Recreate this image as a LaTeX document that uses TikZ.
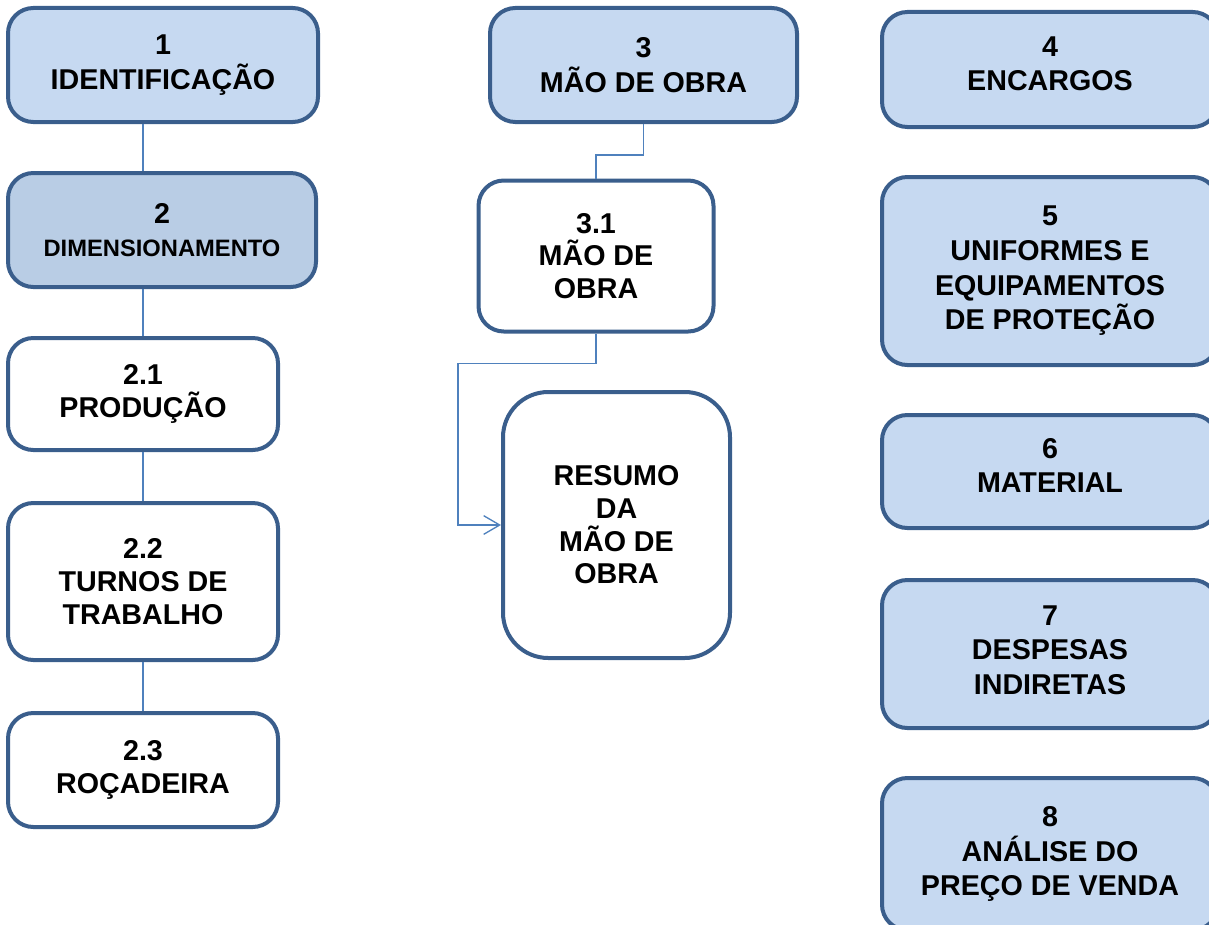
\documentclass[tikz,border=0pt]{standalone}
\usepackage{fontspec}
\setmainfont{Liberation Sans}
\usetikzlibrary{arrows.meta}
\definecolor{borda}{HTML}{3A5E8C}
\definecolor{azulclaro}{HTML}{C6D9F1}
\definecolor{azulmedio}{HTML}{B9CDE5}
\definecolor{linha}{HTML}{4F81BD}
\tikzset{
	caixa/.style 2 args={draw=borda, line width=3pt, rounded corners=19pt, align=center,
		minimum width=#1*0.75pt, minimum height=#2*0.75pt, inner sep=0pt,
		font=\fontsize{21.5}{24.5}\selectfont\bfseries},
	azul/.style={fill=azulclaro, font=\fontsize{21.5}{26}\selectfont\bfseries},
	liga/.style={draw=linha, line width=1pt}
}

\begin{document}
\begin{tikzpicture}[x=0.75pt, y=-0.75pt]
		%%%%% START %%%%%
		\useasboundingbox (0, 0) rectangle (1209, 924);
		
		% coluna 1
		\node[caixa={310}{114}, azul] (n1) at (163, 65) {1\\IDENTIFICAÇÃO};
		\node[caixa={308}{114}, fill=azulmedio] (n2) at (162, 230) {2\\{\fontsize{17.8}{22}\selectfont DIMENSIONAMENTO}};
		\node[caixa={270}{112}, fill=white] (n21) at (143, 394) {2.1\\PRODUÇÃO};
		\node[caixa={270}{157}, fill=white] (n22) at (143, 581.5) {2.2\\TURNOS DE\\TRABALHO};
		\node[caixa={270}{114}, fill=white] (n23) at (143, 770) {2.3\\ROÇADEIRA};
		
		\draw[liga] (n1.south -| n21.north) -- (n2.north -| n21.north);
		\draw[liga] (n2.south -| n21.north) -- (n21.north);
		\draw[liga] (n21.south) -- (n22.north);
		\draw[liga] (n22.south) -- (n23.north);
		
		% coluna 2
		\node[caixa={307}{114}, azul] (n3) at (643.5, 65) {3\\MÃO DE OBRA};
		\node[caixa={235}{151}, fill=white] (n31) at (596, 256) {3.1\\MÃO DE\\OBRA};
		\node[caixa={227}{266}, fill=white, rounded corners=34pt] (resumo) at (616.5, 525) {RESUMO\\DA\\MÃO DE\\OBRA};
		
		\draw[liga] (n3.south) -- ++(0, 31) -| (n31.north);
		\draw[liga, -{Straight Barb[length=12pt, width=14pt]}] (n31.south) -- ++(0, 30) -- ++(-138, 0) |- (resumo.west);
		
		% coluna 3
		\node[caixa={336}{115}, azul, text depth=9pt] (n4) at (1050, 69.5) {4\\ENCARGOS};
		\node[caixa={336}{188}, azul] (n5) at (1050, 271) {5\\UNIFORMES E\\EQUIPAMENTOS\\DE PROTEÇÃO};
		\node[caixa={336}{113}, azul, text depth=9pt] (n6) at (1050, 471.5) {6\\MATERIAL};
		\node[caixa={336}{148}, azul, text depth=6pt] (n7) at (1050, 654) {7\\DESPESAS\\INDIRETAS};
		\node[caixa={336}{152}, azul] (n8) at (1050, 854) {8\\ANÁLISE DO\\PREÇO DE VENDA};
		%%%%% END %%%%%
\end{tikzpicture}
\end{document}
